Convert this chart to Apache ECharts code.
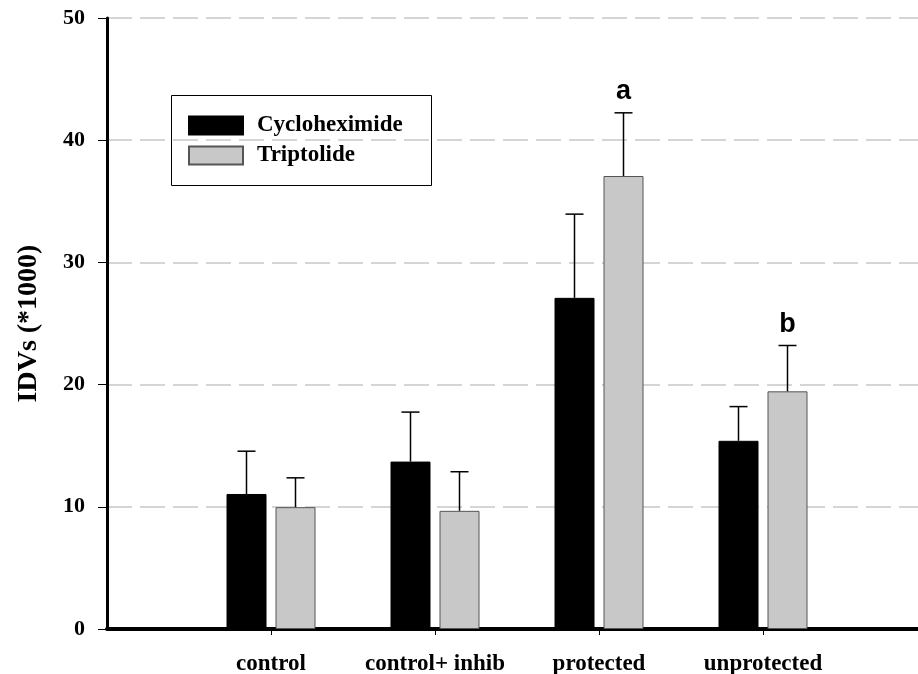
<!DOCTYPE html>
<html>
<head>
<meta charset="utf-8">
<script src="https://cdn.jsdelivr.net/npm/echarts@6/dist/echarts.min.js"></script>
<style>html,body{margin:0;padding:0;background:#fff;}#c{width:918px;height:674px;}</style>
</head>
<body>
<div id="c"></div>
<script>
const categories = ['control', 'control+ inhib', 'protected', 'unprotected'];
const cycloheximide = [11.05, 13.7, 27.1, 15.4];
const cycloheximideErr = [3.5, 4.05, 6.85, 2.8];
const triptolide = [9.97, 9.67, 37.07, 19.45];
const triptolideErr = [2.4, 3.2, 5.17, 3.75];
const triptolideSig = ['', '', 'a', 'b'];
const yTicks = [0, 10, 20, 30, 40, 50];

const SERIF = '"Liberation Serif", "Times New Roman", serif';
const SANS = '"Liberation Sans", Arial, sans-serif';

// pad with an empty slot on each side so groups sit on ticks
const cats = [''].concat(categories, ['']);
const pad = arr => ['-'].concat(arr, ['-']);

function errData(vals, errs, sig) {
  return vals.map((v, i) => [i + 1, v, errs[i], sig ? sig[i] : '']);
}
function errSeries(name, vals, errs, sig, offset) {
  return {
    type: 'custom', name: name, z: 5, silent: true, clip: false,
    data: errData(vals, errs, sig),
    encode: { x: 0, y: 1 },
    renderItem: function (params, api) {
      const x = api.value(0), v = api.value(1), e = api.value(2);
      const lbl = sig ? sig[params.dataIndex] : '';
      const p0 = api.coord([x, v]);
      const p1 = api.coord([x, v + e]);
      const cx = p0[0] + offset;
      const children = [
        { type: 'line', shape: { x1: cx, y1: p0[1], x2: cx, y2: p1[1] }, style: { stroke: '#000', lineWidth: 1.5 } },
        { type: 'line', shape: { x1: cx - 9, y1: p1[1], x2: cx + 9, y2: p1[1] }, style: { stroke: '#000', lineWidth: 1.5 } }
      ];
      if (lbl) {
        children.push({ type: 'text', style: { text: lbl, x: cx, y: p1[1] - 21, align: 'center', verticalAlign: 'middle', font: 'bold 27px ' + SANS, fill: '#000' } });
      }
      return { type: 'group', children: children };
    }
  };
}

const chart = echarts.init(document.getElementById('c'), null, { renderer: 'canvas' });
chart.setOption({
  animation: false,
  backgroundColor: '#fff',
  grid: { left: 107, top: 18, bottom: 45, right: -9, containLabel: false, outerBoundsMode: 'none' },
  graphic: [{
    type: 'rect', left: 171, top: 95, z: 10,
    shape: { width: 260, height: 90 },
    style: { fill: 'rgba(0,0,0,0)', stroke: '#000', lineWidth: 1 }
  }],
  legend: {
    data: ['Cycloheximide', 'Triptolide'],
    orient: 'vertical', left: 188, top: 114, padding: 0,
    itemWidth: 54, itemHeight: 18, itemGap: 7,
    icon: 'rect',
    textStyle: { fontFamily: SERIF, fontWeight: 'bold', fontSize: 23, color: '#000', padding: [0, 0, 0, 9] }
  },
  xAxis: {
    type: 'category', data: cats, boundaryGap: false,
    axisLine: { lineStyle: { color: '#000', width: 4 } },
    axisTick: { show: true, length: 6, inside: false, lineStyle: { color: '#000', width: 1 },
      interval: function (i) { return i > 0 && i < cats.length - 1; } },
    axisLabel: { margin: 24, fontFamily: SERIF, fontWeight: 'bold', fontSize: 23, color: '#000',
      interval: 0 },
    splitLine: { show: false }
  },
  yAxis: {
    type: 'value', min: yTicks[0], max: yTicks[yTicks.length - 1], interval: 10,
    name: 'IDVs (*1000)', nameLocation: 'middle', nameGap: 64, nameRotate: 90,
    nameTextStyle: { fontFamily: SERIF, fontWeight: 'bold', fontSize: 28, color: '#000' },
    axisLine: { show: true, lineStyle: { color: '#000', width: 3 } },
    axisTick: { show: true, length: 9, lineStyle: { color: '#000', width: 1 } },
    axisLabel: { margin: 22, fontFamily: SERIF, fontWeight: 'bold', fontSize: 22, color: '#000' },
    splitLine: { show: true, lineStyle: { color: '#c8c8c8', width: 1.5, type: [25, 8] } }
  },
  series: [
    { name: 'Cycloheximide', type: 'bar', data: pad(cycloheximide), barWidth: 40, barGap: '22.5%',
      itemStyle: { color: '#000', borderColor: '#000', borderWidth: 1 } },
    { name: 'Triptolide', type: 'bar', data: pad(triptolide), barWidth: 40, barGap: '22.5%',
      itemStyle: { color: '#c8c8c8', borderColor: '#555', borderWidth: 1 } },
    errSeries('errC', cycloheximide, cycloheximideErr, null, -24.5),
    errSeries('errT', triptolide, triptolideErr, triptolideSig, 24.5)
  ]
});
</script>
</body>
</html>
